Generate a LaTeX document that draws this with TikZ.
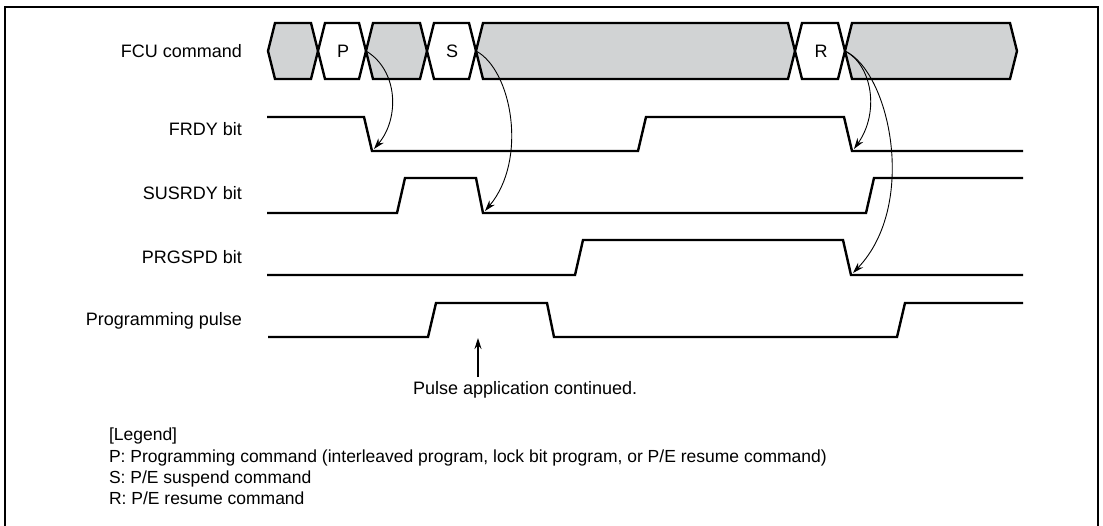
\documentclass[tikz,border=0pt]{standalone}
\usepackage{fontspec}
\setmainfont{Liberation Sans}
\usetikzlibrary{arrows.meta}
\definecolor{busgrey}{RGB}{209,211,212}
\begin{document}
\begin{tikzpicture}[x=1pt,y=-1pt,
  every node/.style={font=\fontsize{18}{21}\selectfont, inner sep=0pt, outer sep=0pt},
  frame/.style={line width=2.4pt},
  sig/.style={line width=2.4pt, line join=miter},
  bus/.style={line width=2.4pt, line join=miter},
  curvarr/.style={line width=0.9pt, -{Stealth[length=11pt,width=7pt]}},
  uparr/.style={line width=1.1pt, -{Stealth[length=11pt,width=7pt]}},
  lbl/.style={anchor=base east},
  leg/.style={anchor=base west, font=\fontsize{17.5}{21}\selectfont}]
\useasboundingbox (0,0) rectangle (1103,525);
% frame
\draw[frame] (5,526) -- (5,7) -- (1098,7) -- (1098,526);

% signal labels
\node[lbl] (lfcu)  at (242,57)  {FCU command};
\node[lbl] (lfrdy) at (242,135) {FRDY bit};
\node[lbl] (lsus)  at (242,199) {SUSRDY bit};
\node[lbl] (lprg)  at (242,263) {PRGSPD bit};
\node[lbl] (lpul)  at (242,325) {Programming pulse};

% FCU command bus
\def\bt{23}\def\bb{79}\def\bm{51}\def\d{7}
\foreach \a/\b/\f in {268/318/busgrey, 318/366/white, 366/427/busgrey, 427/476/white, 476/795/busgrey, 795/845/white, 845/1017/busgrey}{
  \draw[bus, fill=\f] (\a,\bm) -- (\a+\d,\bt) -- (\b-\d,\bt) -- (\b,\bm) -- (\b-\d,\bb) -- (\a+\d,\bb) -- cycle;
}
\node (cmdP) at (343,51) {P};
\node (cmdS) at (452,51) {S};
\node (cmdR) at (821,51) {R};
\coordinate (xP) at (366,51);
\coordinate (xS) at (476,51);
\coordinate (xR) at (845,51);

% waveforms
\draw[sig] (267,117) -- (364,117) -- (372,151) -- (638,151) -- (646,117) -- (844,117) -- (852,151) -- (1023,151);
\draw[sig] (267,213) -- (397,213) -- (405,178) -- (476,178) -- (483,213) -- (866,213) -- (874,178) -- (1023,178);
\draw[sig] (267,275) -- (575,275) -- (583,240) -- (843,240) -- (851,275) -- (1023,275);
\draw[sig] (268,337) -- (428,337) -- (436,303) -- (547,303) -- (554,337) -- (897,337) -- (905,303) -- (1023,303);

% arrow targets
\coordinate (tFrdy1) at (374,149);
\coordinate (tSus)   at (485,211);
\coordinate (tFrdy2) at (854,149);
\coordinate (tPrg)   at (853,273);

% curved arrows
\draw[curvarr] (xP) .. controls (398,70) and (400,118) .. (tFrdy1);
\draw[curvarr] (xS) .. controls (512,70) and (528,160) .. (tSus);
\draw[curvarr] (xR) .. controls (872,65) and (880,112) .. (tFrdy2);
\draw[curvarr] (xR) .. controls (890,72) and (918,205) .. (tPrg);

% pulse annotation
\node[anchor=base west] (pac) at (413,394) {Pulse application continued.};
\coordinate (pulseTip) at (478,338);
\draw[uparr] (478,377) -- (pulseTip);

% legend
\node[leg] (lg0) at (109,440) {[Legend]};
\node[leg] (lg1) at (109,462) {P: Programming command (interleaved program, lock bit program, or P/E resume command)};
\node[leg] (lg2) at (109,483) {S: P/E suspend command};
\node[leg] (lg3) at (109,504) {R: P/E resume command};
\end{tikzpicture}
\end{document}
